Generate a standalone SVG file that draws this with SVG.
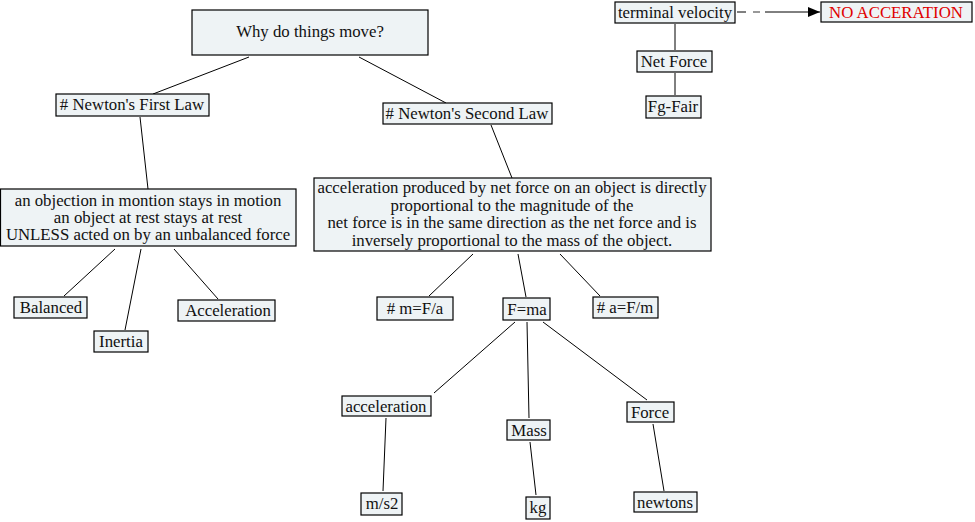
<svg xmlns="http://www.w3.org/2000/svg" width="975" height="522" viewBox="0 0 975 522" font-family="'Liberation Serif', 'DejaVu Serif', serif">
<defs>
<style>
.b{fill:#eef3f5;stroke:#000;stroke-width:1.2}
.t{font-family:'Liberation Serif','DejaVu Serif',serif;font-size:16.8px;fill:#111;text-anchor:middle}
.c line{stroke:#000;stroke-width:1}
</style>
<marker id="ah" markerWidth="12" markerHeight="10" refX="12" refY="5" orient="auto" markerUnits="userSpaceOnUse"><path d="M0,0 L12,5 L0,10 Z" fill="#000"/></marker>
</defs>
<rect width="975" height="522" fill="#fff"/>
<g class="c">
<line x1="249" y1="57" x2="153" y2="94"/>
<line x1="359" y1="57" x2="446" y2="103"/>
<line x1="140" y1="117" x2="148" y2="189"/>
<line x1="491" y1="125" x2="512" y2="178"/>
<line x1="115" y1="249" x2="64" y2="296"/>
<line x1="141" y1="249" x2="125" y2="330"/>
<line x1="174" y1="249" x2="218" y2="299"/>
<line x1="473" y1="254" x2="429" y2="296"/>
<line x1="518" y1="254" x2="526" y2="297"/>
<line x1="560" y1="254" x2="600" y2="296"/>
<line x1="515" y1="322" x2="434" y2="393"/>
<line x1="527" y1="322" x2="529" y2="418"/>
<line x1="543" y1="322" x2="647" y2="400"/>
<line x1="386" y1="418" x2="383" y2="491"/>
<line x1="530" y1="442" x2="536" y2="495"/>
<line x1="653" y1="424" x2="664" y2="491"/>
<line x1="675" y1="24" x2="675" y2="50"/>
<line x1="675" y1="73" x2="675" y2="95"/>
<line x1="737" y1="12" x2="746" y2="12"/>
<line x1="753" y1="12" x2="760" y2="12" style="stroke:#999;stroke-width:2"/>
<line x1="765" y1="12" x2="820" y2="12" marker-end="url(#ah)"/>
</g>
<g id="why"><rect class="b" x="192" y="10" width="236" height="45"/><text class="t" x="310" y="37">Why do things move?</text></g>
<g id="first"><rect class="b" x="56" y="94" width="153" height="22"/><text class="t" x="132" y="110"># Newton's First Law</text></g>
<g id="second"><rect class="b" x="383" y="103" width="169" height="21"/><text class="t" x="467" y="119"># Newton's Second Law</text></g>
<g id="firstbody"><rect class="b" x="0.5" y="189" width="295.5" height="57"/>
<text class="t" x="148" y="206">an objection in montion stays in motion</text>
<text class="t" x="148" y="223">an object at rest stays at rest</text>
<text class="t" x="148" y="240">UNLESS acted on by an unbalanced force</text></g>
<g id="secondbody"><rect class="b" x="314" y="178" width="397" height="73"/>
<text class="t" x="512" y="193">acceleration produced by net force on an object is directly</text>
<text class="t" x="512" y="211">proportional to the magnitude of the</text>
<text class="t" x="512" y="228"> net force is in the same direction as the net force and is</text>
<text class="t" x="512" y="246">inversely proportional to the mass of the object.</text></g>
<g id="balanced"><rect class="b" x="14" y="297" width="73" height="21"/><text class="t" x="51" y="313">Balanced</text></g>
<g id="inertia"><rect class="b" x="94" y="331" width="54" height="21"/><text class="t" x="121" y="347">Inertia</text></g>
<g id="acc1"><rect class="b" x="178" y="300" width="97" height="21"/><text class="t" x="228" y="316">Acceleration</text></g>
<g id="mfa"><rect class="b" x="377" y="297" width="76" height="23"/><text class="t" x="415" y="314"># m=F/a</text></g>
<g id="fma"><rect class="b" x="503" y="298" width="47" height="22"/><text class="t" x="527" y="315">F=ma</text></g>
<g id="afm"><rect class="b" x="593" y="297" width="65" height="21"/><text class="t" x="625" y="313"># a=F/m</text></g>
<g id="acc2"><rect class="b" x="342" y="396" width="89" height="20"/><text class="t" x="386" y="412">acceleration</text></g>
<g id="mass"><rect class="b" x="507" y="420" width="43" height="20"/><text class="t" x="529" y="436">Mass</text></g>
<g id="force"><rect class="b" x="627" y="402" width="47" height="20"/><text class="t" x="650" y="418">Force</text></g>
<g id="ms2"><rect class="b" x="361" y="493" width="41" height="22"/><text class="t" x="382" y="509">m/s2</text></g>
<g id="kg"><rect class="b" x="526" y="497" width="24" height="22"/><text class="t" x="538" y="513">kg</text></g>
<g id="newtons"><rect class="b" x="634" y="492" width="63" height="20"/><text class="t" x="665" y="508">newtons</text></g>
<g id="terminal"><rect class="b" x="615" y="2" width="120" height="21"/><text class="t" x="675" y="18">terminal velocity</text></g>
<g id="netforce"><rect class="b" x="637" y="51" width="75" height="21"/><text class="t" x="674" y="67">Net Force</text></g>
<g id="fgfair"><rect class="b" x="646" y="96" width="55" height="22"/><text class="t" x="673" y="112">Fg-Fair</text></g>
<g id="noacc"><rect class="b" x="821" y="2" width="151" height="20"/><text class="t" x="896" y="18" style="fill:#e00000">NO ACCERATION</text></g>
</svg>
